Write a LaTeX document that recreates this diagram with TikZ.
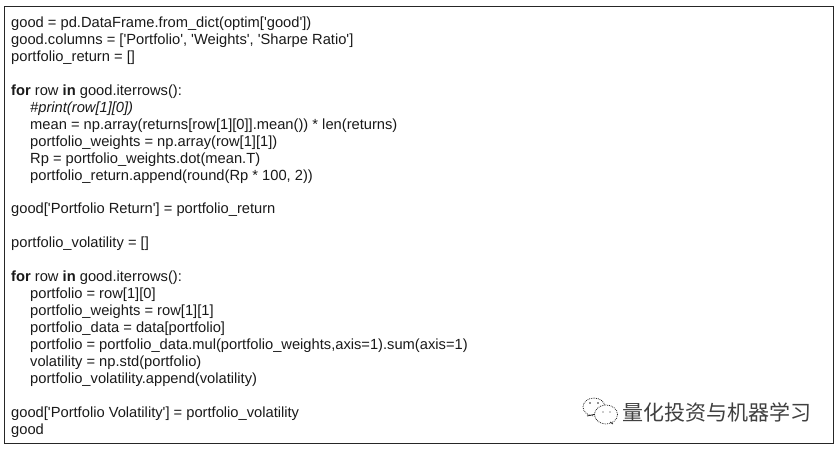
\documentclass[tikz,border=0pt]{standalone}
\usepackage{fontspec}
\newfontfamily\codefont{Liberation Sans}
\newfontfamily\cjkfont{Noto Sans CJK SC}
\tikzset{
	codeline/.style={anchor=base west,inner sep=0pt,font=\codefont\fontsize{14.7}{16}\selectfont,text=black!90},
	bubble/.style={draw=black!85,densely dotted,line width=.8pt,fill=white},
	frameline/.style={draw=black!85,line width=1pt}
}
\begin{document}
\begin{tikzpicture}[x=1pt,y=1pt]
		\useasboundingbox (0,0) rectangle (840,448);
		\draw [frameline] (4,4.5) rectangle (833,441);
		
		\node [codeline] (l1) at (11,420.3) {good = pd.DataFrame.from\_dict(optim['good'])};
		\node [codeline] (l2) at (11,403.4) {good.columns = ['Portfolio', 'Weights', 'Sharpe Ratio']};
		\node [codeline] (l3) at (11,386.4) {portfolio\_return = []};
		
		\node [codeline] (l5) at (11,352.6) {\textbf{for} row \textbf{in} good.iterrows():};
		\node [codeline] (l6) at (30,335.6) {\itshape \#print(row[1][0])};
		\node [codeline] (l7) at (30,318.7) {mean = np.array(returns[row[1][0]].mean()) * len(returns)};
		\node [codeline] (l8) at (30,301.8) {portfolio\_weights = np.array(row[1][1])};
		\node [codeline] (l9) at (30,284.9) {Rp = portfolio\_weights.dot(mean.T)};
		\node [codeline] (l10) at (30,267.9) {portfolio\_return.append(round(Rp * 100, 2))};
		
		\node [codeline] (l12) at (11,234.1) {good['Portfolio Return'] = portfolio\_return};
		
		\node [codeline] (l14) at (11,200.2) {portfolio\_volatility = []};
		
		\node [codeline] (l16) at (11,166.4) {\textbf{for} row \textbf{in} good.iterrows():};
		\node [codeline] (l17) at (30,149.4) {portfolio = row[1][0]};
		\node [codeline] (l18) at (30,132.5) {portfolio\_weights = row[1][1]};
		\node [codeline] (l19) at (30,115.6) {portfolio\_data = data[portfolio]};
		\node [codeline] (l20) at (30,98.7) {portfolio = portfolio\_data.mul(portfolio\_weights,axis=1).sum(axis=1)};
		\node [codeline] (l21) at (30,81.7) {volatility = np.std(portfolio)};
		\node [codeline] (l22) at (30,64.8) {portfolio\_volatility.append(volatility)};
		
		\node [codeline] (l24) at (11,31) {good['Portfolio Volatility'] = portfolio\_volatility};
		\node [codeline] (l25) at (11,14) {good};
		
		% logo
		\draw [bubble] (594,41) ellipse (11 and 9);
		\draw [black!85,line width=.8pt] (587,32) -- (596,34);
		\draw [bubble] (606,33.5) ellipse (11.5 and 9.5);
		\draw [black!85,line width=.8pt] (610,26) -- (613,24);
		\fill [black!85] (590,45) circle (.8) (598,45) circle (.8) (603,36) circle (.7) (610,36) circle (.7);
		\node [codeline,font=\cjkfont\fontsize{21}{24}\selectfont,text=black!75] (logo) at (622,28) {量化投资与机器学习};
		\end{tikzpicture}
\end{document}
